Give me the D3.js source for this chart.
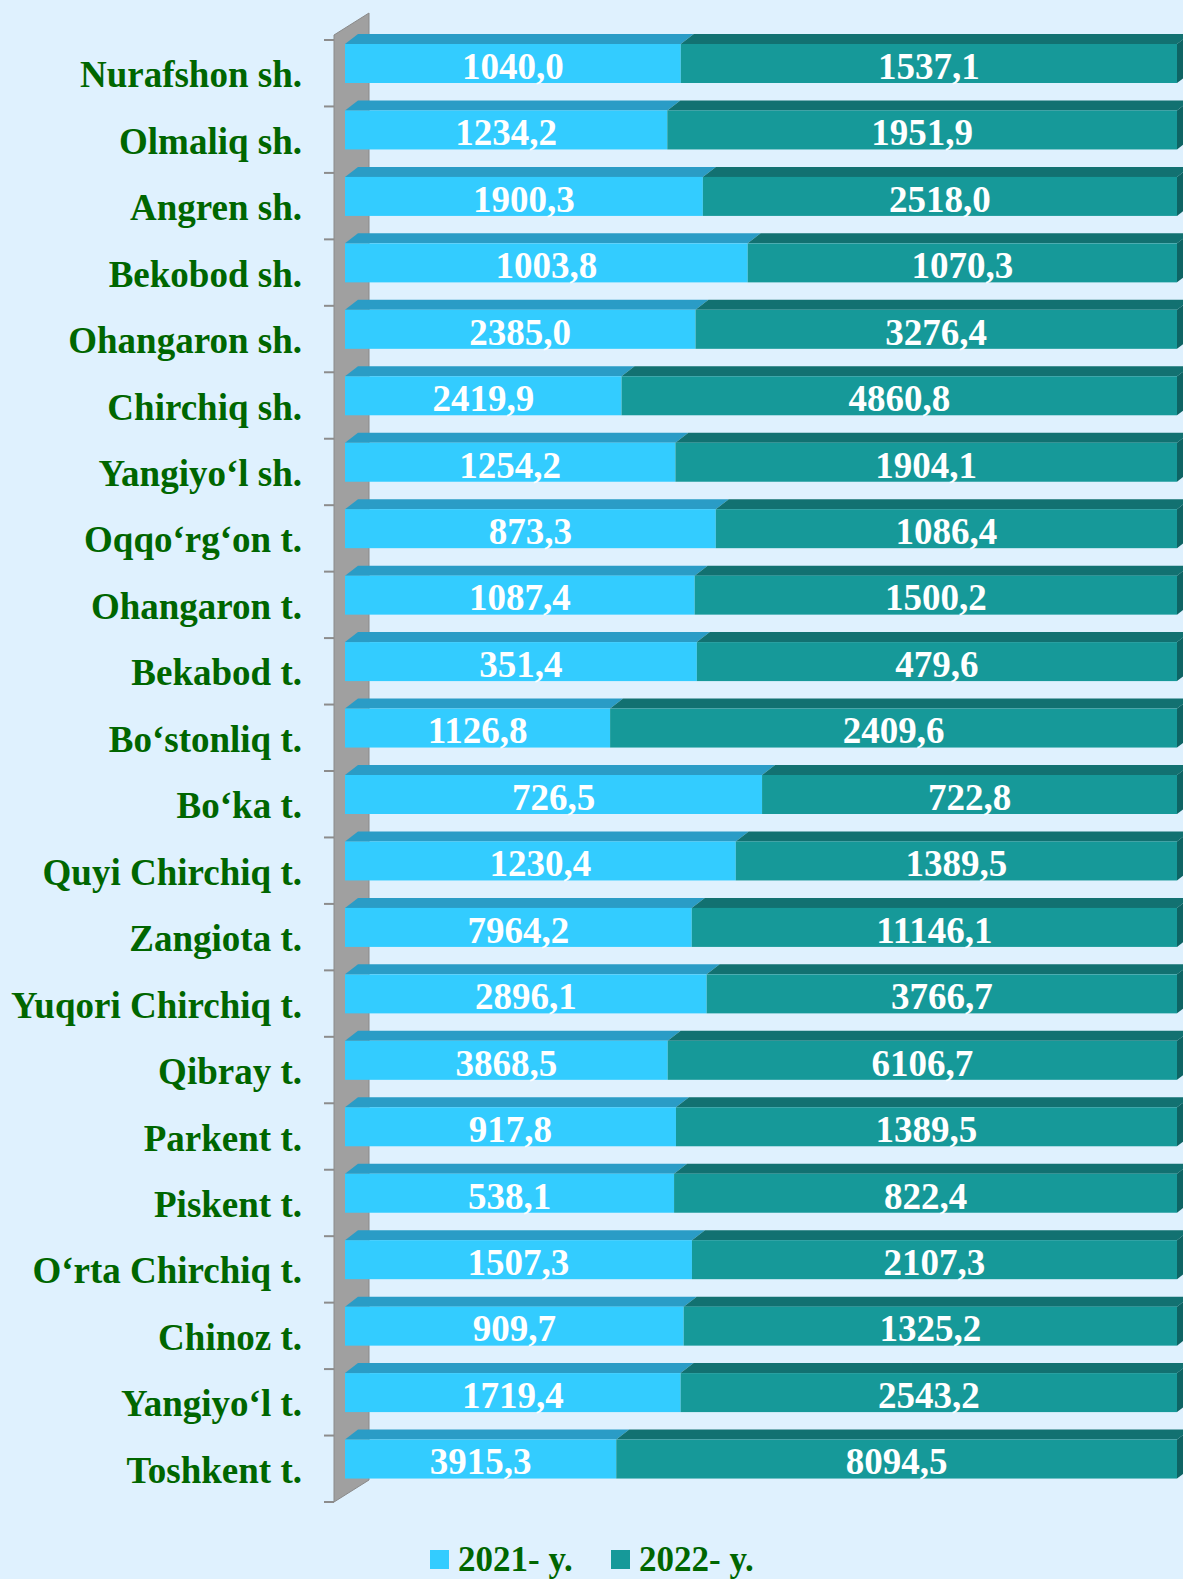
<!DOCTYPE html>
<html>
<head>
<meta charset="utf-8">
<script src="https://cdn.jsdelivr.net/npm/d3@7"></script>
<style>
  html, body { margin: 0; padding: 0; background: #DFF1FE; }
  svg { display: block; }
</style>
</head>
<body>
<svg id="chart" width="1183" height="1579"></svg>
<script>
const categories = [
  "Nurafshon sh.", "Olmaliq sh.", "Angren sh.", "Bekobod sh.", "Ohangaron sh.",
  "Chirchiq sh.", "Yangiyo‘l sh.", "Oqqo‘rg‘on t.", "Ohangaron t.", "Bekabod t.",
  "Bo‘stonliq t.", "Bo‘ka t.", "Quyi Chirchiq t.", "Zangiota t.", "Yuqori Chirchiq t.",
  "Qibray t.", "Parkent t.", "Piskent t.", "O‘rta Chirchiq t.", "Chinoz t.",
  "Yangiyo‘l t.", "Toshkent t."
];
const values2021 = [
  1040.0, 1234.2, 1900.3, 1003.8, 2385.0,
  2419.9, 1254.2, 873.3, 1087.4, 351.4,
  1126.8, 726.5, 1230.4, 7964.2, 2896.1,
  3868.5, 917.8, 538.1, 1507.3, 909.7,
  1719.4, 3915.3
];
const values2022 = [
  1537.1, 1951.9, 2518.0, 1070.3, 3276.4,
  4860.8, 1904.1, 1086.4, 1500.2, 479.6,
  2409.6, 722.8, 1389.5, 11146.1, 3766.7,
  6106.7, 1389.5, 822.4, 2107.3, 1325.2,
  2543.2, 8094.5
];
const seriesNames = ["2021- y.", "2022- y."];

const colors = {
  front: ["#33CCFF", "#169999"],
  top: ["#2A9CC6", "#127171"],
  side: ["#2788B0", "#0E6464"]
};
const labelColor = "#006600";
const fontFamily = "'Liberation Serif', 'Times New Roman', serif";

const svg = d3.select("#chart");

const data = categories.map((c, i) => ({ cat: c, v: [values2021[i], values2022[i]] }));
const stack = d3.stack().keys([0, 1]).value((d, k) => d.v[k]).offset(d3.stackOffsetExpand);
const stacked = stack(data);

const y = d3.scaleBand().domain(categories).range([40, 1502]).paddingInner(0).paddingOuter(0);
const x = d3.scaleLinear().domain([0, 1]).range([345, 1177]);

const depthX = 13, depthY = 10;
const faceTop = 4, faceH = 39;

// Wall
const wallL = 334, wallR = 369, wallDy = 22;
const y0 = y.range()[0], y1 = y.range()[1];
svg.append("path")
  .attr("d", `M${wallL},${y0 - 5} L${wallR},${y0 - 5 - wallDy} L${wallR},${y1 - wallDy} L${wallL},${y1} Z`)
  .attr("fill", "#A0A0A0")
  .attr("stroke", "#8A8A8A")
  .attr("stroke-width", 1);

// tick marks
const boundaries = categories.map(c => y(c)).concat([y1]);
svg.append("g").selectAll("line").data(boundaries).join("line")
  .attr("x1", 324).attr("x2", wallL)
  .attr("y1", d => d).attr("y2", d => d)
  .attr("stroke", "#8C8C8C").attr("stroke-width", 2);

// Bars
const gBars = svg.append("g");
stacked.forEach((layer, k) => {
  const g = gBars.append("g");
  layer.forEach((seg, i) => {
    const cat = categories[i];
    const xa = x(seg[0]), xb = x(seg[1]);
    const ty = y(cat) + faceTop;
    g.append("path")
      .attr("d", `M${xa},${ty} L${xa + depthX},${ty - depthY} L${xb + depthX},${ty - depthY} L${xb},${ty} Z`)
      .attr("fill", colors.top[k]);
    g.append("rect")
      .attr("x", xa).attr("y", ty)
      .attr("width", xb - xa).attr("height", faceH)
      .attr("fill", colors.front[k]);
    if (k === 1) {
      g.append("path")
        .attr("d", `M${xb},${ty} L${xb + depthX},${ty - depthY} L${xb + depthX},${ty + faceH - depthY} L${xb},${ty + faceH} Z`)
        .attr("fill", colors.side[k]);
    }
    g.append("text")
      .attr("x", (xa + xb) / 2)
      .attr("y", ty + faceH / 2 + 2)
      .attr("dy", "0.36em")
      .attr("text-anchor", "middle")
      .attr("font-family", fontFamily)
      .attr("font-weight", "bold")
      .attr("font-size", 37)
      .attr("fill", "#FFFFFF")
      .text(d3.format(".1f")(data[i].v[k]).replace(".", ","));
  });
});

// Category labels
svg.append("g").selectAll("text").data(categories).join("text")
  .attr("x", 302)
  .attr("y", d => y(d) + y.bandwidth() / 2 + 14)
  .attr("text-anchor", "end")
  .attr("font-family", fontFamily)
  .attr("font-weight", "bold")
  .attr("font-size", 37)
  .attr("fill", labelColor)
  .text(d => d);

// Legend
const legend = svg.append("g");
const legendX = [430, 611];
seriesNames.forEach((name, k) => {
  legend.append("rect")
    .attr("x", legendX[k]).attr("y", 1550)
    .attr("width", 19).attr("height", 19)
    .attr("fill", colors.front[k]);
  legend.append("text")
    .attr("x", legendX[k] + 28).attr("y", 1571)
    .attr("font-family", fontFamily)
    .attr("font-weight", "bold")
    .attr("font-size", 35)
    .attr("fill", labelColor)
    .text(name);
});
</script>
</body>
</html>
